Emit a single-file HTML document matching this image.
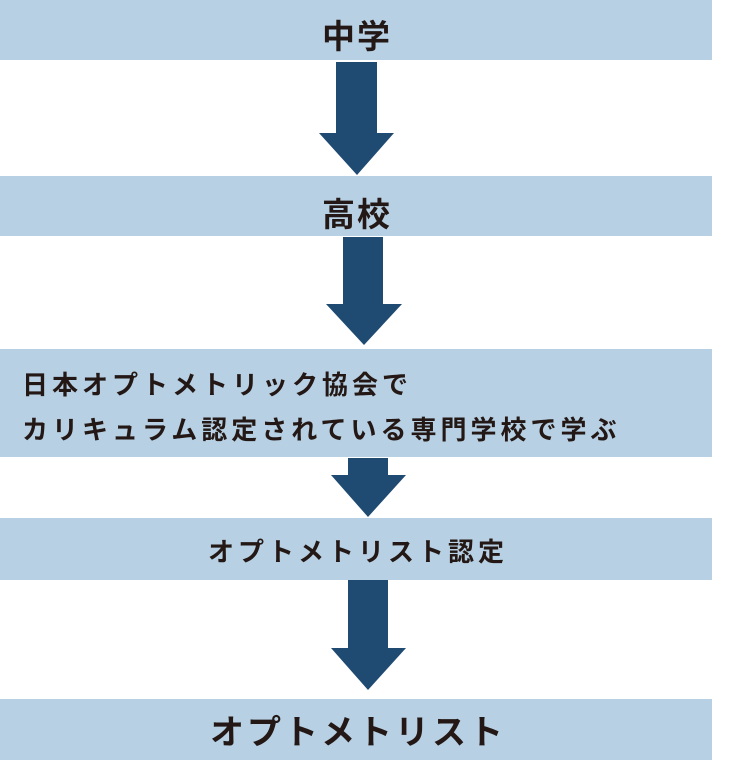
<!DOCTYPE html>
<html><head><meta charset="utf-8"><style>
body{margin:0;width:736px;height:761px;background:#fff;position:relative;overflow:hidden;font-family:"Liberation Sans","Noto Sans CJK JP",sans-serif;color:#231815;font-weight:bold}
.b{position:absolute;left:0;width:712px;background:#b7d0e3}
.t{position:absolute;white-space:nowrap}
svg{position:absolute;left:0;top:0}
</style></head><body>
<div class="b" style="top:0;height:60px"></div>
<div class="b" style="top:176px;height:60px"></div>
<div class="b" style="top:349px;height:108px"></div>
<div class="b" style="top:518px;height:62px"></div>
<div class="b" style="top:699px;height:61px"></div>
<svg width="736" height="761" fill="#1f4a72">
<polygon points="336,62 377,62 377,133 394,133 357,175 319,133 336,133"/>
<polygon points="343,237 383,237 383,304 402,304 364,345 326,304 343,304"/>
<polygon points="348,458 388,458 388,475 406,475 368,517 331,475 348,475"/>
<polygon points="348,580 388,580 388,648 406,648 368,690 331,648 348,648"/>
</svg>
<div class="t" style="left:322px;top:10px;font-size:33px;letter-spacing:2px">中学</div>
<div class="t" style="left:322px;top:188px;font-size:33px;letter-spacing:2px">高校</div>
<div class="t" style="left:22px;top:365px;font-size:26px;letter-spacing:4px">日本オプトメトリック協会で</div>
<div class="t" style="left:22px;top:410px;font-size:26px;letter-spacing:4px">カリキュラム認定されている専門学校で学ぶ</div>
<div class="t" style="left:208px;top:532px;font-size:26px;letter-spacing:4px">オプトメトリスト認定</div>
<div class="t" style="left:210px;top:705px;font-size:34px;letter-spacing:3px">オプトメトリスト</div>
</body></html>
